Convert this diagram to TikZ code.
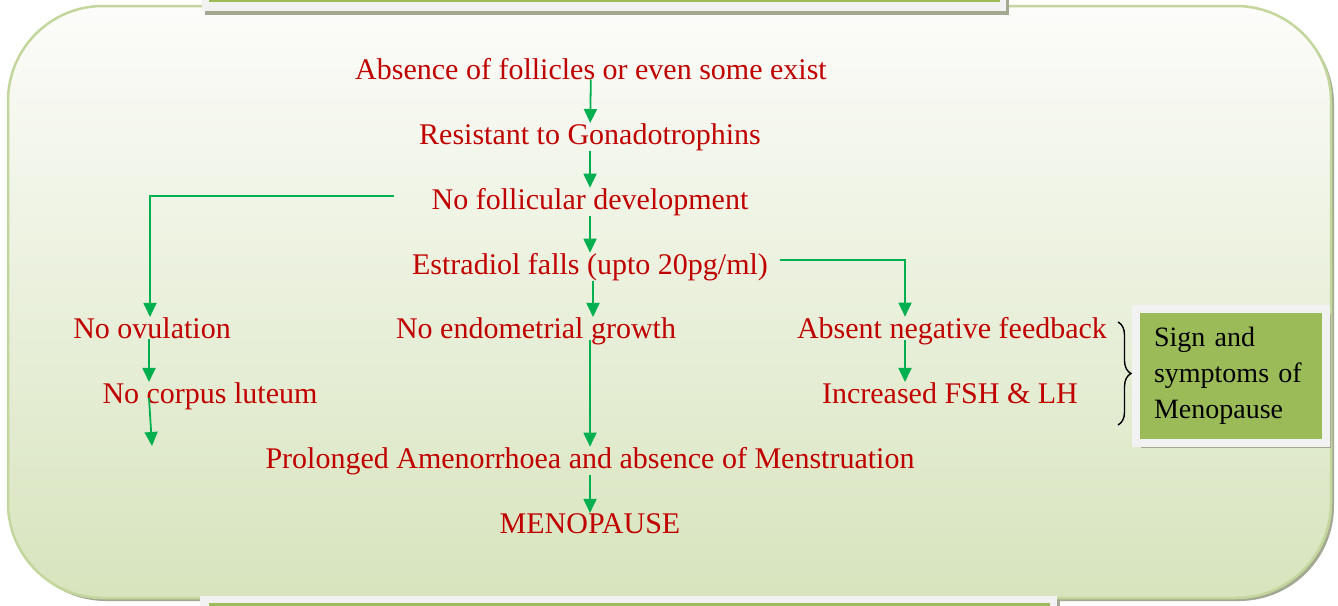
\documentclass[tikz,border=0pt]{standalone}
\usepackage{fontspec}
\setmainfont{Liberation Serif}
\usetikzlibrary{arrows.meta,positioning,calc,shadows,decorations.pathreplacing}
\definecolor{txtred}{HTML}{C00000}
\definecolor{flowgreen}{HTML}{00B050}
\definecolor{signgreen}{HTML}{9BBB59}
\definecolor{panelrim}{HTML}{C3D69B}
\definecolor{paneltop}{HTML}{FCFCFA}
\definecolor{panelbot}{HTML}{D7E4BD}
\definecolor{tabgray}{HTML}{F2F2F2}
\definecolor{shadegray}{HTML}{A3A893}
\tikzset{
  stage/.style={text=txtred, font=\fontsize{30}{36}\selectfont, inner sep=0pt, anchor=base},
  flow/.style={-{Triangle[length=14pt,width=13pt]}, draw=flowgreen, line width=1.8pt},
  panel/.style={draw=panelrim, line width=2.5pt, rounded corners=95pt,
                top color=paneltop, bottom color=panelbot,
                drop shadow={shadow xshift=3pt, shadow yshift=-3pt, fill=shadegray, opacity=1}},
  tab/.style={fill=tabgray, drop shadow={shadow xshift=3pt, shadow yshift=-4pt, fill=shadegray, opacity=1}},
  signbox/.style={fill=signgreen, draw=tabgray, line width=8pt, minimum width=190pt,
                  minimum height=134pt, inner sep=0pt, text width=154pt, align=left,
                  font=\fontsize{28}{36}\selectfont,
                  drop shadow={shadow xshift=5pt, shadow yshift=-5pt, fill=shadegray, opacity=1}},
  brc/.style={decorate, decoration={brace, amplitude=13pt}, draw=black, line width=1.4pt}
}

\begin{document}
\begin{tikzpicture}[x=1pt,y=-1pt]
  \useasboundingbox (0,0) rectangle (1338,605);
  % background panel and tabs
  \path[panel] (8,6) rectangle (1331,598);
  \path[tab] (202,-6) rectangle (1006,11);
  \fill[signgreen] (209,-2) rectangle (1000,2);
  \path[tab] (200,596) rectangle (1057,612);
  \fill[signgreen] (209,603) rectangle (1050,606);

  % main chain
  \node[stage] (absence) at (591,79) {Absence of follicles or even some exist};
  \node[stage] (resist) at (590,144) {Resistant to Gonadotrophins};
  \node[stage] (nofoll) at (590,209) {No follicular development};
  \node[stage] (estra) at (590,274) {Estradiol falls (upto 20pg/ml)};
  \node[stage] (noovul) at (152,338) {No ovulation};
  \node[stage] (endo) at (536,338) {No endometrial growth};
  \node[stage] (absent) at (952,338) {Absent negative feedback};
  \node[stage] (corpus) at (210,403) {No corpus luteum};
  \node[stage] (fshlh) at (950,403) {Increased FSH \& LH};
  \node[stage] (amen) at (590,468) {Prolonged Amenorrhoea and absence of Menstruation};
  \node[stage] (meno) at (590,533) {MENOPAUSE};

  \node[signbox] (sign) at (1231,376) {Sign and\\symptoms of\\Menopause};
  \coordinate (lend) at (152,446);

  % arrows
  \draw[flow] (absence) -- (resist);
  \draw[flow] (resist) -- (nofoll);
  \draw[flow] (nofoll) -- (estra);
  \draw[flow] ([xshift=3pt]estra.south) -- ([xshift=3pt]estra.south |- endo.north);
  \draw[flow] ([yshift=-2pt]endo.base -| amen.north) -- (amen.north);
  \draw[flow] (amen) -- (meno);
  \draw[flow] ([xshift=-38pt,yshift=6pt]nofoll.west) -| ([xshift=-2pt]noovul.north);
  \draw[flow] ([xshift=-3pt,yshift=-1pt]noovul.base) -- ([xshift=-3pt]noovul.south |- corpus.north);
  \draw[flow] ([xshift=-3pt,yshift=5pt]noovul.base |- corpus.base) -- (lend);
  \draw[flow] ([xshift=12pt,yshift=7pt]estra.east) -| ([xshift=-47pt]absent.north);
  \draw[flow] ([xshift=-47pt,yshift=-2pt]absent.base) -- ([xshift=-47pt]absent.south |- fshlh.north);

  % brace
  \coordinate (btop) at (1118,322);
  \coordinate (bbot) at (1118,425);
  \draw[brc] (btop) -- (bbot);
\end{tikzpicture}
\end{document}
